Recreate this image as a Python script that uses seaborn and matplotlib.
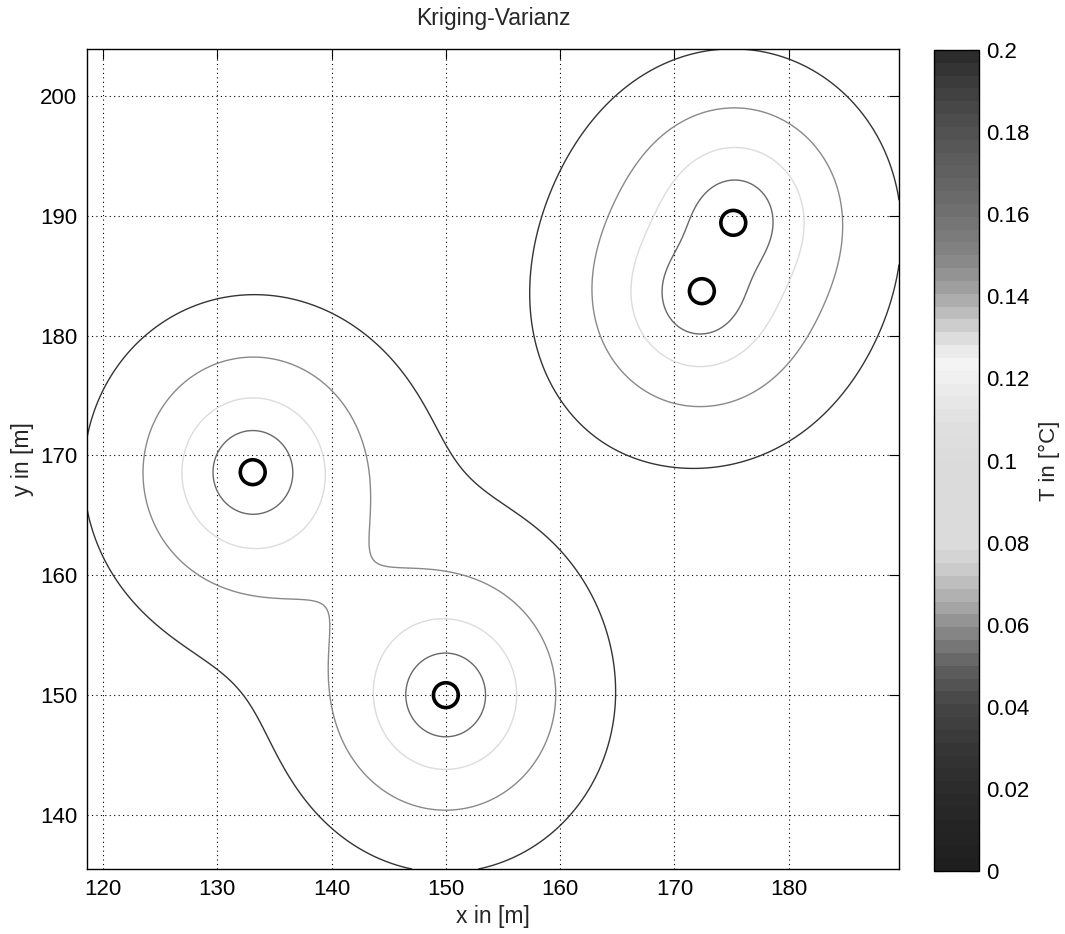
import numpy as np
import matplotlib
matplotlib.use("Agg")
import matplotlib.pyplot as plt
from matplotlib.colors import ListedColormap, Normalize
import matplotlib.cm as cm
import seaborn as sns

# Measurement locations [m]
station_x = [133.1, 150.0, 172.4, 175.15]
station_y = [168.6, 150.0, 183.7, 189.4]

# Stable variogram model used for ordinary kriging
sill = 0.17
vario_scale = 11.4
vario_shape = 1.5

# Contour levels of the kriging variance
contour_levels = [0.05, 0.10, 0.15, 0.194]

# Axis ticks
x_ticks = [120, 130, 140, 150, 160, 170, 180]
y_ticks = [140, 150, 160, 170, 180, 190, 200]
cbar_ticks = [0, 0.02, 0.04, 0.06, 0.08, 0.1, 0.12, 0.14, 0.16, 0.18, 0.2]
cbar_ticklabels = ["0", "0.02", "0.04", "0.06", "0.08", "0.1",
                   "0.12", "0.14", "0.16", "0.18", "0.2"]

# Margin of the estimation grid around the stations [m]
margin = 14.5


def variogram(h):
    return sill * (1.0 - np.exp(-(h / vario_scale) ** vario_shape))


# ---- ordinary kriging variance on a regular grid ----
px = np.asarray(station_x)
py = np.asarray(station_y)
n = len(px)
dist = np.hypot(px[:, None] - px[None, :], py[:, None] - py[None, :])
A = np.ones((n + 1, n + 1))
A[:n, :n] = variogram(dist)
A[n, n] = 0.0

gx = np.linspace(px.min() - margin, px.max() + margin, 361)
gy = np.linspace(py.min() - margin, py.max() + margin, 361)
GX, GY = np.meshgrid(gx, gy)
d0 = np.hypot(GX.ravel()[None, :] - px[:, None], GY.ravel()[None, :] - py[:, None])
B = np.ones((n + 1, d0.shape[1]))
B[:n] = variogram(d0)
W = np.linalg.solve(A, B)
krig_var = ((W[:n] * B[:n]).sum(axis=0) + W[n]).reshape(GX.shape)

# ---- grey colormap: dark at both ends, bright around 0.12 ----
anchors = [
    (0.000, 0.12), (0.010, 0.14), (0.020, 0.17), (0.030, 0.21),
    (0.040, 0.27), (0.045, 0.32), (0.050, 0.38), (0.055, 0.47),
    (0.060, 0.56), (0.065, 0.66), (0.070, 0.74), (0.075, 0.82),
    (0.080, 0.86), (0.100, 0.86), (0.110, 0.88), (0.115, 0.91),
    (0.120, 0.94), (0.124, 0.96), (0.128, 0.90), (0.132, 0.82),
    (0.136, 0.74), (0.140, 0.66), (0.145, 0.58), (0.150, 0.52),
    (0.160, 0.44), (0.170, 0.38), (0.180, 0.32), (0.190, 0.25),
    (0.200, 0.16),
]
av = np.array([a[0] for a in anchors])
ag = np.array([a[1] for a in anchors])
centers = (np.arange(64) + 0.5) / 64 * 0.2
greys = np.interp(centers, av, ag)
cmap = ListedColormap(np.column_stack([greys, greys, greys]))
norm = Normalize(vmin=0.0, vmax=0.2)

# ---- figure ----
sns.set_style("white")
plt.rcParams["font.family"] = ["Liberation Sans", "DejaVu Sans"]

W_PX, H_PX = 1065, 934
fig = plt.figure(figsize=(W_PX / 100, H_PX / 100), dpi=100)
ax = fig.add_axes([87 / W_PX, 1 - 869 / H_PX, (899 - 87) / W_PX, (869 - 49) / H_PX])
cax = fig.add_axes([934 / W_PX, 1 - 871 / H_PX, 45 / W_PX, (871 - 50) / H_PX])

ax.contour(GX, GY, krig_var, levels=contour_levels, cmap=cmap, norm=norm,
           linewidths=1.0)

sns.scatterplot(x=station_x, y=station_y, ax=ax, marker="o", s=320,
                facecolor="none", edgecolor="black", linewidth=2.6,
                zorder=5, legend=False)

ax.set_xlim(gx[0], gx[-1])
ax.set_ylim(gy[0], gy[-1])
ax.set_xticks(x_ticks)
ax.set_yticks(y_ticks)
ax.grid(True, color="black", linestyle=(0, (1, 3)), linewidth=0.8)
ax.tick_params(direction="in", top=True, right=True, length=7, width=0.8,
               labelsize=16, pad=7, colors="black")
for sp in ax.spines.values():
    sp.set_color("black")
    sp.set_linewidth(1.0)
ax.set_xlabel("x in [m]", fontsize=16.5, labelpad=4)
ax.set_ylabel("y in [m]", fontsize=16.5, labelpad=4)
ax.set_title("Kriging-Varianz", fontsize=16.5, pad=17)

cb = fig.colorbar(cm.ScalarMappable(norm=norm, cmap=cmap), cax=cax)
cb.set_ticks(cbar_ticks)
cb.set_ticklabels(cbar_ticklabels)
cax.tick_params(direction="in", left=True, right=True, length=7, width=0.8,
                labelsize=16, pad=5, colors="black")
cb.outline.set_edgecolor("black")
cb.outline.set_linewidth(1.0)
cb.set_label("T in [°C]", fontsize=16, labelpad=7)

fig.savefig("out.png", dpi=100)
